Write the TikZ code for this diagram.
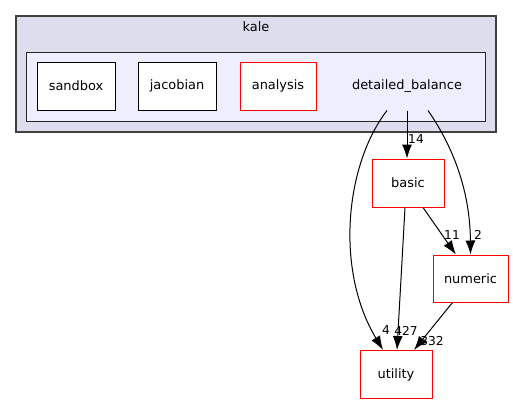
\documentclass[tikz,border=0pt]{standalone}
\usepackage{fontspec}
\setmainfont{DejaVu Sans}
\usepackage{tikz}
\usetikzlibrary{shapes}
\usetikzlibrary{arrows.meta}
\definecolor{outerfill}{HTML}{DDDDEE}
\definecolor{innerfill}{HTML}{EEEEFF}
\definecolor{outerline}{HTML}{404040}
\tikzset{
  dirbox/.style={draw=black, fill=white, line width=0.75pt, inner sep=0pt,
    minimum height=36pt, font=\fontsize{9.7}{11}\selectfont},
  reddir/.style={dirbox, draw=red},
  edgelabel/.style={inner sep=0pt, font=\fontsize{9.2}{10}\selectfont},
  dep/.style={->, >={Latex[length=10.5pt,width=7.5pt]}, line width=0.75pt},
}

\begin{document}
\begin{tikzpicture}[x=0.75pt, y=-0.75pt]
          \useasboundingbox (0,0) rectangle (513,404);

          \draw [fill=outerfill, draw=outerline, line width=1.1pt] (16,16) rectangle (496,132);
          \node (kale) [font=\fontsize{9.7}{11}\selectfont] at (256,27){kale};
          \draw [fill=innerfill, draw=black!85, line width=0.75pt] (26,52) rectangle (485,121);

          \node (sandbox) [dirbox, minimum width=58.5pt] at (76,86){sandbox};
          \node (jacobian) [dirbox, minimum width=58.5pt] at (177,86){jacobian};
          \node (analysis) [reddir, minimum width=57pt] at (278,86){analysis};
          \node (db) [dirbox, draw=none, fill=none, minimum width=90pt] at (407,86){detailed\_balance};

          \node (basic) [reddir, minimum width=54pt] at (408,183){basic};
          \node (numeric) [reddir, minimum width=56.25pt, minimum height=35.25pt] at (470.5,278.5){numeric};
          \node (utility) [reddir, minimum width=54pt] at (396,374.5){utility};

        \draw [dep] (db.south) -- (db.south |- basic.north);
        \draw [dep] ([xshift=15.75pt]db.south) .. controls (445,135) and (470,180) .. (numeric.north);
        \draw [dep] ([xshift=-15pt]db.south) .. controls (345,165) and (335,270) .. ([xshift=-9.75pt]utility.north);
        \draw [dep] ([xshift=-2.25pt]basic.south) -- ([xshift=0.75pt]utility.north);
        \draw [dep] ([xshift=11.25pt]basic.south) -- ([xshift=-11pt]numeric.north);
        \draw [dep] ([xshift=-13.5pt]numeric.south) -- ([xshift=13.5pt]utility.north);

        \node (l14) [edgelabel] at (416,139){14};
        \node (l2) [edgelabel] at (478,235){2};
        \node (l11) [edgelabel] at (452,235){11};
        \node (l4) [edgelabel] at (386,330){4};
        \node (l427) [edgelabel] at (406,331){427};
        \node (l332) [edgelabel] at (432,341){332};
    \end{tikzpicture}
\end{document}
